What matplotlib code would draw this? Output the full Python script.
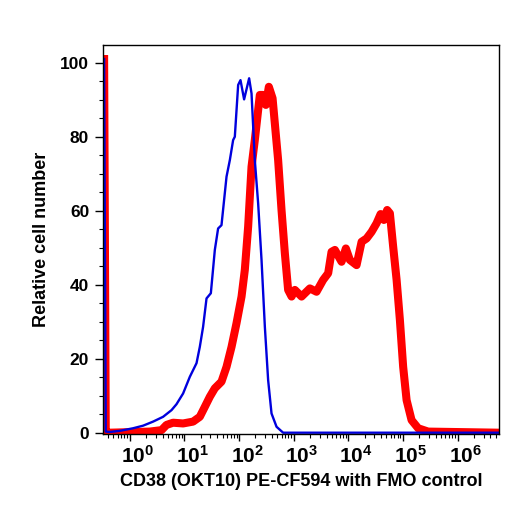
import numpy as np
import matplotlib
matplotlib.use("Agg")
import matplotlib.pyplot as plt
import matplotlib.transforms as mtransforms
from matplotlib.ticker import FixedLocator, FixedFormatter, LogLocator, MultipleLocator, NullFormatter

plt.rcParams['font.family'] = ['Liberation Sans', 'DejaVu Sans']
plt.rcParams['font.weight'] = 'bold'
plt.rcParams['mathtext.fontset'] = 'custom'
plt.rcParams['mathtext.rm'] = 'Liberation Sans:bold'
plt.rcParams['mathtext.it'] = 'Liberation Sans:bold'
plt.rcParams['mathtext.bf'] = 'Liberation Sans:bold'

# --- data (x as log10 of intensity) ------------------------------------------
fmo_logx = [-0.47, -0.44, -0.366, -0.183, 0.06, 0.244, 0.427, 0.61, 0.764, 0.855,
            0.976, 1.099, 1.222, 1.282, 1.342, 1.405, 1.484, 1.557, 1.617, 1.679,
            1.771, 1.832, 1.892, 1.923, 1.984, 2.027, 2.093, 2.185, 2.229, 2.289,
            2.35, 2.412, 2.473, 2.533, 2.595, 2.687, 2.808, 6.76]
fmo_y = [101, 0.3, 0.2, 0.5, 1.2, 1.9, 3.0, 4.3, 6.1, 7.7,
         10.6, 15.1, 18.8, 23.2, 28.6, 36.3, 37.7, 49.4, 55.2, 56.1,
         69.2, 73.7, 79.1, 80.0, 94.0, 95.3, 90.1, 95.8, 91.7, 73.7,
         62.0, 46.7, 28.6, 14.2, 5.2, 1.6, 0.0, 0.0]

cd38_logx = [-0.47, -0.44, -0.366, 0.366, 0.581, 0.672, 0.793, 0.976, 1.159, 1.282,
             1.374, 1.465, 1.557, 1.679, 1.771, 1.863, 1.954, 2.046, 2.106, 2.167,
             2.229, 2.289, 2.381, 2.441, 2.491, 2.546, 2.614, 2.716, 2.778, 2.839,
             2.899, 2.962, 3.022, 3.145, 3.297, 3.419, 3.54, 3.632, 3.694, 3.755,
             3.877, 3.956, 4.029, 4.152, 4.244, 4.335, 4.427, 4.518, 4.592, 4.652,
             4.712, 4.762, 4.822, 4.885, 4.945, 5.005, 5.068, 5.159, 5.28, 5.463, 6.76]
cd38_y = [101, 0.3, 0.0, 0.3, 0.7, 2.1, 2.7, 2.5, 3.0, 4.3,
          7.0, 9.7, 12.0, 13.8, 17.8, 23.2, 29.6, 36.8, 44.0, 55.7,
          71.9, 79.1, 91.3, 91.3, 88.6, 93.5, 90.4, 73.7, 60.2, 48.5,
          38.6, 36.8, 38.6, 36.8, 39.0, 38.1, 41.3, 43.1, 48.9, 49.4,
          46.2, 49.8, 46.7, 45.3, 51.6, 52.5, 54.3, 56.6, 59.1, 57.5,
          60.2, 59.3, 50.3, 41.3, 30.5, 17.8, 8.8, 3.4, 1.2, 0.3, 0.0]

decades = [0, 1, 2, 3, 4, 5, 6]
decade_labels = [r'$10^{%d}$' % d for d in decades]
y_ticks = [0, 20, 40, 60, 80, 100]

# --- figure -------------------------------------------------------------------
fig = plt.figure(figsize=(5.19, 5.05), dpi=100)
ax = fig.add_axes([0.1985, 0.1406, 0.763, 0.7703])

ax.plot(10.0 ** np.array(cd38_logx), cd38_y, color='#ff0000', lw=5.8)
ax.plot(10.0 ** np.array(fmo_logx), fmo_y, color='#0000dd', lw=1.7)

ax.set_xscale('log')
ax.set_xlim(10 ** -0.49, 10 ** 6.76)
ax.set_ylim(-0.35, 104.8)

ax.xaxis.set_major_locator(FixedLocator([10.0 ** d for d in decades]))
ax.xaxis.set_major_formatter(FixedFormatter(decade_labels))
ax.xaxis.set_minor_locator(LogLocator(base=10, subs=np.arange(2, 10), numticks=20))
ax.xaxis.set_minor_formatter(NullFormatter())
ax.yaxis.set_major_locator(FixedLocator(y_ticks))
ax.yaxis.set_minor_locator(MultipleLocator(5))

ax.tick_params(axis='both', which='both', direction='out', top=False, right=False)
ax.tick_params(axis='x', which='major', length=5, width=1, labelsize=15, pad=3)
ax.tick_params(axis='x', which='minor', length=3, width=0.8)
ax.tick_params(axis='y', which='major', length=6, width=1, labelsize=12.5, pad=4)
ax.tick_params(axis='y', which='minor', length=3, width=0.8)

# x tick labels sit a bit to the right of their ticks
shift = mtransforms.ScaledTranslation(8 / 100, 0, fig.dpi_scale_trans)
for lbl in ax.get_xticklabels():
    lbl.set_transform(lbl.get_transform() + shift)

for sp in ax.spines.values():
    sp.set_linewidth(1.0)

ax.set_xlabel('CD38 (OKT10) PE-CF594 with FMO control', fontsize=13, fontweight='bold', labelpad=4)
ax.set_ylabel('Relative cell number', fontsize=13, fontweight='bold')
ax.yaxis.set_label_coords(-0.135, 0.5)

fig.savefig('out.png', dpi=100)
